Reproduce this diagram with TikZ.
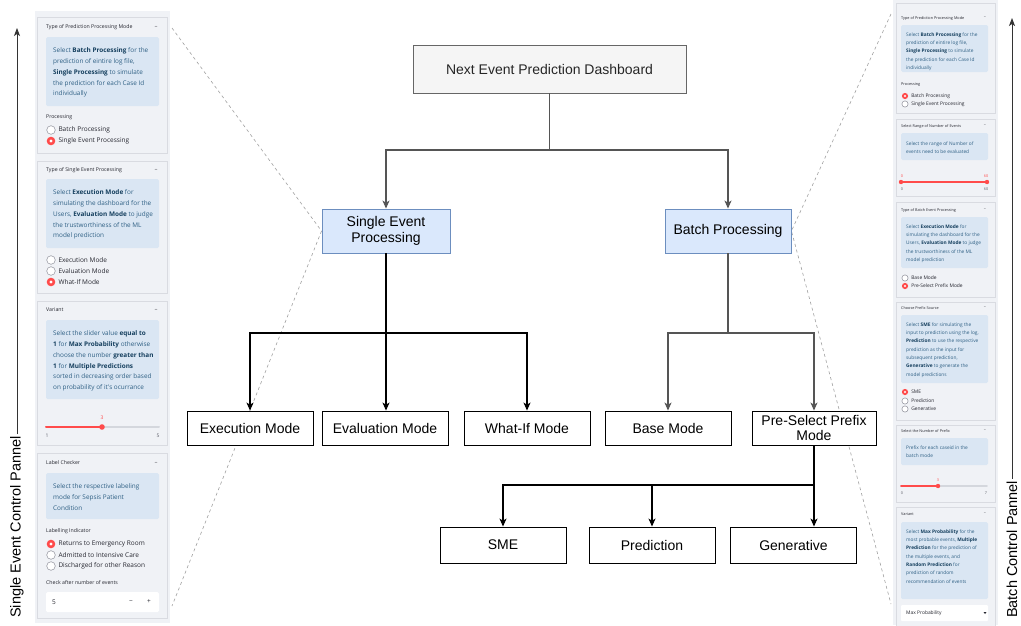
\documentclass[tikz,border=0pt]{standalone}
\usepackage{fontspec}
\setmainfont{Liberation Sans}
\newfontfamily\uifont{Open Sans}
\usetikzlibrary{arrows.meta,calc,backgrounds}

\definecolor{panelbg}{HTML}{F0F2F6}
\definecolor{cardedge}{HTML}{D9DBE1}
\definecolor{infofill}{HTML}{DAE6F3}
\definecolor{infotxt}{HTML}{2F6084}
\definecolor{infobold}{HTML}{153F5E}
\definecolor{uitxt}{HTML}{262730}
\definecolor{uigray}{HTML}{5F616B}
\definecolor{selred}{HTML}{FF4B4B}
\definecolor{trackgray}{HTML}{D4D7DD}
\definecolor{ringgray}{HTML}{8E909A}
\definecolor{rootfill}{HTML}{F5F5F5}
\definecolor{rootedge}{HTML}{666666}
\definecolor{bluefill}{HTML}{DAE8FC}
\definecolor{blueedge}{HTML}{6C8EBF}
\definecolor{linkgray}{HTML}{555555}
\definecolor{guidegray}{HTML}{A0A0A0}

% bold highlight inside the info boxes
\newcommand\hl[1]{\textbf{\color{infobold}#1}}

% radio option: name, x, y, radius, on(1)/off(0), label style, label
\newcommand\radioopt[7]{%
  \ifnum#5=1
    \fill[selred] (#2,#3) circle[radius=#4pt];
    \fill[white] (#2,#3) circle[radius={0.38*#4pt}];
  \else
    \draw[ringgray,fill=white,line width=0.5pt] (#2,#3) circle[radius=#4pt];
  \fi
  \node[#6,anchor=west] (#1) at ({#2+#4+3},#3) {#7};
}

\begin{document}
\begin{tikzpicture}[x=1pt,y=-1pt,
  font=\fontsize{14}{16}\selectfont,
  root/.style={draw=rootedge,fill=rootfill,text=black!85,minimum width=273pt,minimum height=48pt,line width=0.9pt},
  mode/.style={draw=blueedge,fill=bluefill,minimum width=128pt,minimum height=44pt,align=center,line width=0.9pt,inner sep=1pt},
  leaf/.style={draw=black,fill=white,minimum width=126pt,minimum height=34pt,line width=0.9pt,inner sep=1pt,align=center},
  link/.style={line width=1.1pt,-{Stealth[length=8pt,width=7pt,inset=2.2pt]}},
  guide/.style={draw=guidegray,line width=0.6pt,dash pattern=on 3pt off 3pt},
  sidearrow/.style={draw=black!80,line width=0.9pt,-{Stealth[length=8pt,width=6pt,inset=2pt]}},
  card/.style={draw=cardedge,fill=panelbg,line width=0.6pt},
  infobox/.style={fill=infofill,rounded corners=1.5pt},
  headL/.style={font=\uifont\fontsize{5.2}{6}\selectfont,text=uitxt,inner sep=0pt},
  headR/.style={font=\uifont\fontsize{3.8}{4.5}\selectfont,text=uitxt,inner sep=0pt},
  infoL/.style={font=\uifont\fontsize{6.4}{10.8}\selectfont,text=infotxt,align=left,inner sep=0pt,anchor=north west},
  infoR/.style={font=\uifont\fontsize{4.8}{8.35}\selectfont,text=infotxt,align=left,inner sep=0pt,anchor=north west},
  radL/.style={font=\uifont\fontsize{6.5}{7}\selectfont,text=uitxt,inner sep=0pt},
  radR/.style={font=\uifont\fontsize{4.9}{5.5}\selectfont,text=uitxt,inner sep=0pt},
  tickL/.style={font=\uifont\fontsize{5}{6}\selectfont,text=uigray,inner sep=0pt},
  tickR/.style={font=\uifont\fontsize{3.8}{4.5}\selectfont,text=uigray,inner sep=0pt},
]
\useasboundingbox (0,0) rectangle (1021,625);
\begin{scope}[on background layer]
  \fill[white] (0,0) rectangle (1021,625);
\end{scope}

% ---------------- left control panel ----------------
\fill[panelbg] (35,11) rectangle (170,623);

% card: prediction processing mode
\draw[card] (37,17) rectangle (167,153);
\node[headL,anchor=west] (L1head) at (46,27) {Type of Prediction Processing Mode};
\node[headL] (L1min) at (156,27) {−};
\fill[infobox] (46,37) rectangle (159,106);
\node[infoL] (L1info) at (53,47.6) {Select \hl{Batch Processing} for the\\prediction of eintire log file,\\\hl{Single Processing} to simulate\\the prediction for each Case Id\\individually};
\node[headL,anchor=west] (L1lab) at (46,117) {Processing};
\radioopt{L1a}{51}{130}{4.3}{0}{radL}{Batch Processing}
\radioopt{L1b}{51}{141}{4.3}{1}{radL}{Single Event Processing}

% card: single event processing type
\draw[card] (37,161) rectangle (167,293);
\node[headL,anchor=west] (L2head) at (46,170) {Type of Single Event Processing};
\node[headL] (L2min) at (156,170) {−};
\fill[infobox] (46,179) rectangle (159,248);
\node[infoL] (L2info) at (53,189.6) {Select \hl{Execution Mode} for\\simulating the dashboard for the\\Users, \hl{Evaluation Mode} to judge\\the trustworthiness of the ML\\model prediction};
\radioopt{L2a}{51}{260}{4.3}{0}{radL}{Execution Mode}
\radioopt{L2b}{51}{271}{4.3}{0}{radL}{Evaluation Mode}
\radioopt{L2c}{51}{282}{4.3}{1}{radL}{What-If Mode}

% card: variant slider
\draw[card] (37,301) rectangle (167,445);
\node[headL,anchor=west] (L3head) at (46,310) {Variant};
\node[headL] (L3min) at (156,310) {−};
\fill[infobox] (46,320) rectangle (159,399);
\node[infoL] (L3info) at (53,330.6) {Select the slider value \hl{equal to}\\\hl{1} for \hl{Max Probability} otherwise\\choose the number \hl{greater than}\\\hl{1} for \hl{Multiple Predictions}\\sorted in decreasing order based\\on probability of it's ocurrance};
\draw[trackgray,line width=2pt,line cap=round] (46,427) -- (159,427);
\draw[selred,line width=2pt,line cap=round] (46,427) -- (102,427);
\fill[selred] (102,427) circle[radius=2.8pt];
\node[tickL,text=selred] (L3val) at (102,418) {3};
\node[tickL] (L3min1) at (47,436) {1};
\node[tickL] (L3max) at (158,436) {5};

% card: label checker
\draw[card] (37,453) rectangle (167,618);
\node[headL,anchor=west] (L4head) at (46,463) {Label Checker};
\node[headL] (L4min) at (156,463) {−};
\fill[infobox] (46,473) rectangle (159,519);
\node[infoL] (L4info) at (53,483.6) {Select the respective labeling\\mode for Sepsis Patient\\Condition};
\node[headL,anchor=west] (L4lab) at (46,531) {Labelling Indicator};
\radioopt{L4a}{51}{544}{4.3}{1}{radL}{Returns to Emergency Room}
\radioopt{L4b}{51}{555}{4.3}{0}{radL}{Admitted to Intensive Care}
\radioopt{L4c}{51}{566}{4.3}{0}{radL}{Discharged for other Reason}
\node[headL,anchor=west] (L4num) at (46,583) {Check after number of events};
\fill[white,rounded corners=1.5pt] (46,592) rectangle (159,612);
\node[radL,anchor=west] (L4val) at (52,602) {5};
\node[radL] (L4dec) at (131,602) {−};
\node[radL] (L4inc) at (149,602) {+};

% ---------------- right control panel ----------------
\fill[panelbg] (893,0) rectangle (998,625);

% card: prediction processing mode
\draw[card] (896,3) rectangle (995,113);
\node[headR,anchor=west] (R1head) at (901,18) {Type of Prediction Processing Mode};
\node[headR] (R1min) at (985,18) {−};
\fill[infobox] (901,25) rectangle (988,72);
\node[infoR] (R1info) at (906,32.2) {Select \hl{Batch Processing} for the\\prediction of eintire log file,\\\hl{Single Processing} to simulate\\the prediction for each Case Id\\individually};
\node[headR,anchor=west] (R1lab) at (901,85) {Processing};
\radioopt{R1a}{905}{96}{3.1}{1}{radR}{Batch Processing}
\radioopt{R1b}{905}{104}{3.1}{0}{radR}{Single Event Processing}

% card: range of number of events
\draw[card] (896,119) rectangle (995,196);
\node[headR,anchor=west] (R2head) at (901,126) {Select Range of Number of Events};
\node[headR] (R2min) at (985,126) {−};
\fill[infobox] (901,133) rectangle (988,160);
\node[infoR] (R2info) at (906,141.2) {Select the range of Number of\\events need to be evaluated};
\draw[selred,line width=1.6pt,line cap=round] (901,182) -- (987,182);
\fill[selred] (901,182) circle[radius=2.2pt];
\fill[selred] (987,182) circle[radius=2.2pt];
\node[tickR,text=selred] (R2lo) at (902,176) {0};
\node[tickR,text=selred] (R2hi) at (986,176) {60};
\node[tickR] (R2lo2) at (902,189) {0};
\node[tickR] (R2hi2) at (986,189) {60};

% card: batch event processing type
\draw[card] (896,202) rectangle (995,297);
\node[headR,anchor=west] (R3head) at (901,210) {Type of Batch Event Processing};
\node[headR] (R3min) at (985,210) {−};
\fill[infobox] (901,217) rectangle (988,268);
\node[infoR] (R3info) at (906,224.2) {Select \hl{Execution Mode} for\\simulating the dashboard for the\\Users, \hl{Evaluation Mode} to judge\\the trustworthiness of the ML\\model prediction};
\radioopt{R3a}{905}{278}{3.1}{0}{radR}{Base Mode}
\radioopt{R3b}{905}{286}{3.1}{1}{radR}{Pre-Select Prefix Mode}

% card: prefix source
\draw[card] (896,302) rectangle (995,420);
\node[headR,anchor=west] (R4head) at (901,308) {Choose Prefix Source};
\node[headR] (R4min) at (985,308) {−};
\fill[infobox] (901,315) rectangle (988,383);
\node[infoR] (R4info) at (906,322.2) {Select \hl{SME} for simulating the\\input to prediction using the log,\\\hl{Prediction} to use the respective\\prediction as the input for\\subsequent prediction,\\\hl{Generative} to generate the\\model predictions};
\radioopt{R4a}{905}{392}{3.1}{1}{radR}{SME}
\radioopt{R4b}{905}{401}{3.1}{0}{radR}{Prediction}
\radioopt{R4c}{905}{409}{3.1}{0}{radR}{Generative}

% card: number of prefix
\draw[card] (896,425) rectangle (995,502);
\node[headR,anchor=west] (R5head) at (901,431) {Select the Number of Prefix};
\node[headR] (R5min) at (985,431) {−};
\fill[infobox] (901,438) rectangle (988,465);
\node[infoR] (R5info) at (906,445.2) {Prefix for each caseid in the\\batch mode};
\draw[trackgray,line width=1.6pt,line cap=round] (901,486) -- (987,486);
\draw[selred,line width=1.6pt,line cap=round] (901,486) -- (938,486);
\fill[selred] (938,486) circle[radius=2.2pt];
\node[tickR,text=selred] (R5val) at (938,480) {3};
\node[tickR] (R5lo) at (902,493) {0};
\node[tickR] (R5hi) at (986,493) {7};

% card: variant selector
\draw[card] (896,507) rectangle (995,630);
\node[headR,anchor=west] (R6head) at (901,514) {Variant};
\node[headR] (R6min) at (985,514) {−};
\fill[infobox] (901,522) rectangle (988,599);
\node[infoR] (R6info) at (906,529.2) {Select \hl{Max Probability} for the\\most probable events, \hl{Multiple}\\\hl{Prediction} for the prediction of\\the multiple events, and\\\hl{Random Prediction} for\\prediction of random\\recommendation of events};
\fill[white,rounded corners=1pt] (901,605) rectangle (988,621);
\node[radR,anchor=west] (R6sel) at (906,613) {Max Probability};
\fill[uitxt] (983.5,612) -- (986.5,612) -- (985,614) -- cycle;

% ---------------- side captions ----------------
\node[rotate=90,anchor=west,inner sep=2pt,font=\fontsize{14.5}{16}\selectfont] (capL) at (17,620) {Single Event Control Pannel};
\coordinate (capLtop) at (17,28);
\draw[sidearrow] (capL.east) -- (capLtop);
\node[rotate=90,anchor=west,inner sep=2pt,font=\fontsize{14.5}{16}\selectfont] (capR) at (1012,620) {Batch Control Pannel};
\coordinate (capRtop) at (1012,18);
\draw[sidearrow] (capR.east) -- (capRtop);

% ---------------- hierarchy ----------------
\node[root] (root) at (549.5,69) {Next Event Prediction Dashboard};
\node[mode] (single) at (386,231) {Single Event\\Processing};
\node[mode,minimum width=126pt] (batch) at (728,231) {Batch Processing};

\node[leaf] (exec) at (250,428) {Execution Mode};
\node[leaf] (eval) at (385,428) {Evaluation Mode};
\node[leaf] (whatif) at (527,428) {What-If Mode};
\node[leaf] (base) at (668,428) {Base Mode};
\node[leaf,minimum width=124pt,font=\fontsize{14}{14.5}\selectfont,inner ysep=0pt] (pre) at (814,428) {Pre-Select Prefix\\Mode};

\node[leaf,minimum height=36pt] (sme) at (503,545) {SME};
\node[leaf,minimum height=36pt] (pred) at (652,545) {Prediction};
\node[leaf,minimum height=36pt] (gen) at (793.5,545) {Generative};

\coordinate (busA) at (0,150);
\coordinate (busB) at (0,333);
\coordinate (busC) at (0,485);

\draw[link,linkgray] (root.south) -- (root.south |- busA) -| (single.north);
\draw[link,linkgray] (root.south |- busA) -| (batch.north);

\draw[link,black] (single.south) -- (single.south |- busB) -| (exec.north);
\draw[link,black] (single.south |- busB) -| (whatif.north);
\draw[link,black] (single.south) -- (single.south |- eval.north);

\draw[link,linkgray] (batch.south) -- (batch.south |- busB) -| (base.north);
\draw[link,linkgray] (batch.south |- busB) -| (pre.north);

\draw[link,black] (pre.south) -- (pre.south |- gen.north);
\draw[link,black] (pre.south |- busC) -| (sme.north);
\draw[link,black] (pre.south |- busC) -| (pred.north);

% dashed zoom guides behind the boxes
\coordinate (gLtop) at (172,28);
\coordinate (gLbot) at (172,606);
\coordinate (gRtop) at (891,14);
\coordinate (gRbot) at (891,604);
\begin{scope}[on background layer]
  \draw[guide] (gLtop) -- (single.west) -- (gLbot);
  \draw[guide] (gRtop) -- (batch.east) -- (gRbot);
\end{scope}
\end{tikzpicture}
\end{document}
